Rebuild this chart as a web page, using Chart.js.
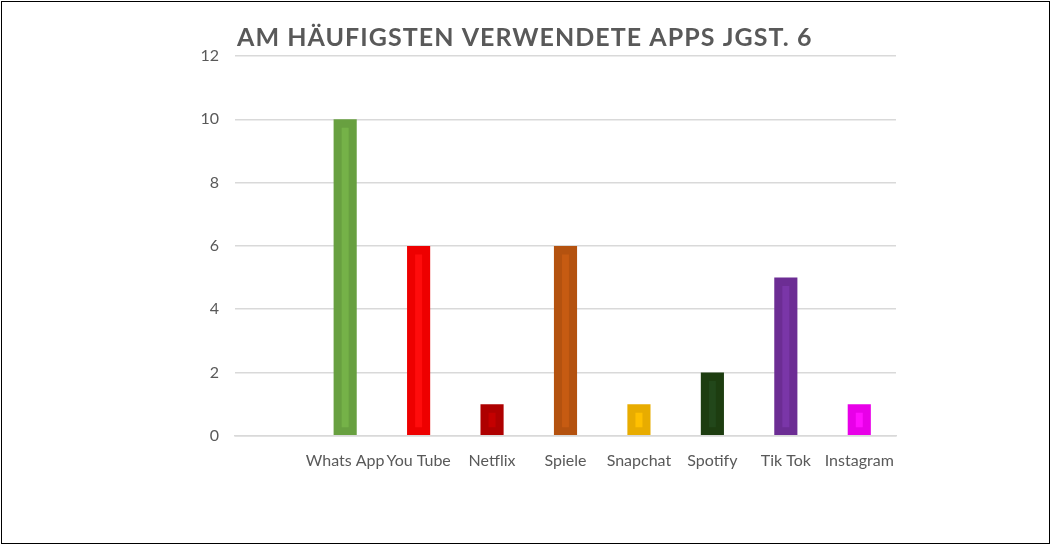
<!DOCTYPE html>
<html>
<head>
<meta charset="utf-8">
<script src="https://cdn.jsdelivr.net/npm/chart.js@4"></script>
<style>
  html, body { margin: 0; padding: 0; background: #fff; }
  #frame {
    position: absolute; left: 1px; top: 1px;
    width: 1047px; height: 541px;
    border: 1.5px solid #000;
  }
  #wrap { position: absolute; left: -1px; top: -1px; width: 1052px; height: 545px; }
</style>
</head>
<body>
<div id="frame"><div id="wrap"><canvas id="myChart"></canvas></div></div>
<script>
const chartTitle = 'AM HÄUFIGSTEN VERWENDETE APPS JGST. 6';
const categories = ['', 'Whats App', 'You Tube', 'Netflix', 'Spiele', 'Snapchat', 'Spotify', 'Tik Tok', 'Instagram'];
const values = [null, 10, 6, 1, 6, 1, 2, 5, 1];
const barColors = ['#000', '#68A040', '#EE0000', '#AE0000', '#B4520F', '#E8AC00', '#1D3D10', '#6C2D94', '#E800E8'];
const stripeColors = ['#000', '#75B248', '#FF0C0C', '#C40000', '#C65B12', '#FFC000', '#22471A', '#7A36A8', '#FF10FF'];
const yTicks = [0, 2, 4, 6, 8, 10, 12];

// lighter inner stripe, like the Excel bar style
const stripes = values.map(v => v == null ? null : [0.27, v - 0.27]);

// title drawn at the left edge of the plot area
const titlePlugin = {
  id: 'leftTitle',
  afterDraw(chart) {
    const ctx = chart.ctx;
    ctx.save();
    ctx.font = 'bold 25px Lato';
    ctx.letterSpacing = '1.05px';
    ctx.fillStyle = '#595959';
    ctx.textBaseline = 'alphabetic';
    ctx.fillText(chartTitle, chart.chartArea.left + 2, 45);
    ctx.restore();
  }
};

const data = {
  labels: categories,
  datasets: [{
    data: values,
    backgroundColor: barColors,
    barPercentage: 0.315,
    categoryPercentage: 1,
    grouped: false,
    order: 2
  }, {
    data: stripes,
    backgroundColor: stripeColors,
    barPercentage: 0.095,
    categoryPercentage: 1,
    grouped: false,
    order: 1
  }]
};

const config = {
  type: 'bar',
  data,
  plugins: [titlePlugin],
  options: {
    responsive: true,
    maintainAspectRatio: false,
    animation: false,
    layout: { padding: { left: 180, right: 157, top: 55, bottom: 69 } },
    plugins: {
      legend: { display: false },
      title: { display: false },
      tooltip: { enabled: false }
    },
    scales: {
      x: {
        grid: { display: false },
        border: { color: '#D9D9D9', width: 1.5 },
        ticks: {
          autoSkip: false, maxRotation: 0, color: '#595959',
          font: { family: 'Lato', size: 16 }, padding: 7
        }
      },
      y: {
        min: 0, max: 12,
        afterFit(s) { s.width = 54; },
        afterBuildTicks(s) { s.ticks = yTicks.map(v => ({ value: v })); },
        grid: { color: '#D9D9D9', lineWidth: 1.5, drawTicks: false },
        border: { display: false },
        ticks: {
          color: '#595959', padding: 16,
          font: { family: 'Lato', size: 16 }
        }
      }
    }
  }
};

const myChart = new Chart(document.getElementById('myChart'), config);
</script>
</body>
</html>
